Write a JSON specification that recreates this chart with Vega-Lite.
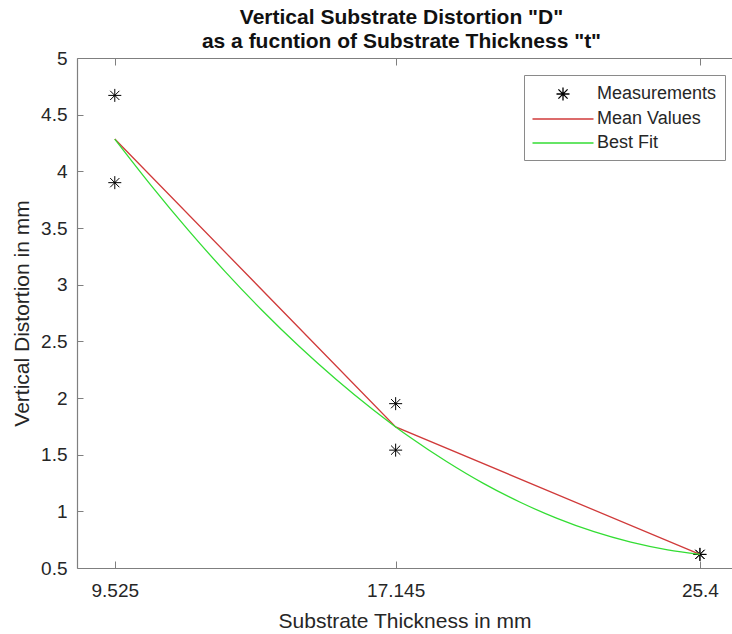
{
  "$schema": "https://vega.github.io/schema/vega-lite/v6.json",
  "width": 655,
  "height": 510,
  "autosize": {"type": "none"},
  "padding": {"left": 77, "top": 58, "right": 0, "bottom": 66},
  "background": "white",
  "title": {
    "text": ["Vertical Substrate Distortion \"D\"", "as a fucntion of Substrate Thickness \"t\""],
    "font": "Liberation Sans",
    "fontSize": 21,
    "fontWeight": "bold",
    "color": "#111111",
    "lineHeight": 24,
    "offset": 8,
    "anchor": "middle",
    "dx": -3,
    "dy": 11
  },
  "datasets": {
    "meas": [
      {"t": 9.525, "D": 4.67, "series": "Measurements"},
      {"t": 9.525, "D": 3.9, "series": "Measurements"},
      {"t": 17.145, "D": 1.95, "series": "Measurements"},
      {"t": 17.145, "D": 1.54, "series": "Measurements"},
      {"t": 25.4, "D": 0.62, "series": "Measurements"},
      {"t": 25.4, "D": 0.62, "series": "Measurements"}
    ],
    "mean": [
      {"t": 9.525, "D": 4.285, "series": "Mean Values"},
      {"t": 17.145, "D": 1.745, "series": "Mean Values"},
      {"t": 25.4, "D": 0.62, "series": "Mean Values"}
    ],
    "fit": [
      {"t": 9.525, "D": 4.285, "series": "Best Fit"},
      {"t": 10.525, "D": 3.87, "series": "Best Fit"},
      {"t": 11.525, "D": 3.479, "series": "Best Fit"},
      {"t": 12.525, "D": 3.113, "series": "Best Fit"},
      {"t": 13.525, "D": 2.772, "series": "Best Fit"},
      {"t": 14.525, "D": 2.456, "series": "Best Fit"},
      {"t": 15.525, "D": 2.165, "series": "Best Fit"},
      {"t": 16.525, "D": 1.898, "series": "Best Fit"},
      {"t": 17.145, "D": 1.745, "series": "Best Fit"},
      {"t": 17.525, "D": 1.656, "series": "Best Fit"},
      {"t": 18.525, "D": 1.44, "series": "Best Fit"},
      {"t": 19.525, "D": 1.247, "series": "Best Fit"},
      {"t": 20.525, "D": 1.08, "series": "Best Fit"},
      {"t": 21.525, "D": 0.938, "series": "Best Fit"},
      {"t": 22.525, "D": 0.82, "series": "Best Fit"},
      {"t": 23.525, "D": 0.728, "series": "Best Fit"},
      {"t": 24.525, "D": 0.66, "series": "Best Fit"},
      {"t": 25.4, "D": 0.621, "series": "Best Fit"}
    ]
  },
  "layer": [
    {
      "data": {"name": "meas"},
      "mark": {"type": "point", "filled": false, "size": 400, "strokeWidth": 1, "opacity": 1},
      "encoding": {
        "x": {
          "field": "t", "type": "quantitative",
          "scale": {"domain": [8.5, 26.27], "nice": false, "zero": false},
          "axis": {
            "orient": "bottom", "values": [9.525, 17.145, 25.4], "format": ".5~g",
            "title": "Substrate Thickness in mm", "tickSize": -7, "labelPadding": 20, "titlePadding": 10
          }
        },
        "y": {
          "field": "D", "type": "quantitative",
          "scale": {"domain": [0.5, 5], "nice": false, "zero": false},
          "axis": {
            "orient": "left", "values": [0.5, 1, 1.5, 2, 2.5, 3, 3.5, 4, 4.5, 5], "format": ".2~g",
            "title": "Vertical Distortion in mm", "tickSize": -6, "labelPadding": 16, "titlePadding": 8
          }
        },
        "color": {
          "field": "series", "type": "nominal",
          "scale": {"domain": ["Measurements", "Mean Values", "Best Fit"], "range": ["#000000", "#d03a3a", "#33dd33"]},
          "legend": {"title": null}
        },
        "shape": {
          "field": "series", "type": "nominal",
          "scale": {
            "domain": ["Measurements", "Mean Values", "Best Fit"],
            "range": [
              "M-0.65,0L0.65,0M0,-0.65L0,0.65M-0.46,-0.46L0.46,0.46M-0.46,0.46L0.46,-0.46",
              "M-3.05,0L3.05,0",
              "M-3.05,0L3.05,0"
            ]
          },
          "legend": {"title": null}
        }
      }
    },
    {
      "data": {"name": "mean"},
      "mark": {"type": "line", "strokeWidth": 1.3},
      "encoding": {
        "x": {"field": "t", "type": "quantitative", "axis": {"orient": "top", "values": [9.525, 17.145, 25.4], "labels": false, "tickSize": -7, "title": null}},
        "y": {"field": "D", "type": "quantitative", "axis": null},
        "color": {"field": "series", "type": "nominal", "legend": {"title": null}}
      }
    },
    {
      "data": {"name": "fit"},
      "mark": {"type": "line", "strokeWidth": 1.3, "interpolate": "monotone"},
      "encoding": {
        "x": {"field": "t", "type": "quantitative", "axis": null},
        "y": {"field": "D", "type": "quantitative", "axis": null},
        "color": {"field": "series", "type": "nominal", "legend": {"title": null}}
      }
    }
  ],
  "resolve": {"axis": {"x": "independent", "y": "independent"}},
  "config": {
    "view": {"stroke": null},
    "axis": {
      "grid": false,
      "domainColor": "#7f7f7f",
      "tickColor": "#7f7f7f",
      "domainWidth": 1.2,
      "tickWidth": 1,
      "labelColor": "#262626",
      "titleColor": "#262626",
      "labelFont": "Liberation Sans",
      "titleFont": "Liberation Sans",
      "labelFontSize": 19,
      "titleFontSize": 21,
      "titleFontWeight": "normal"
    },
    "legend": {
      "orient": "none",
      "legendX": 447,
      "legendY": 17,
      "padding": 8,
      "rowPadding": 4,
      "strokeColor": "#8a8a8a",
      "fillColor": "white",
      "symbolSize": 400,
      "symbolOffset": 20,
      "symbolStrokeWidth": 1.3,
      "labelOffset": 23,
      "labelFont": "Liberation Sans",
      "labelFontSize": 18,
      "labelColor": "#262626"
    }
  }
}
